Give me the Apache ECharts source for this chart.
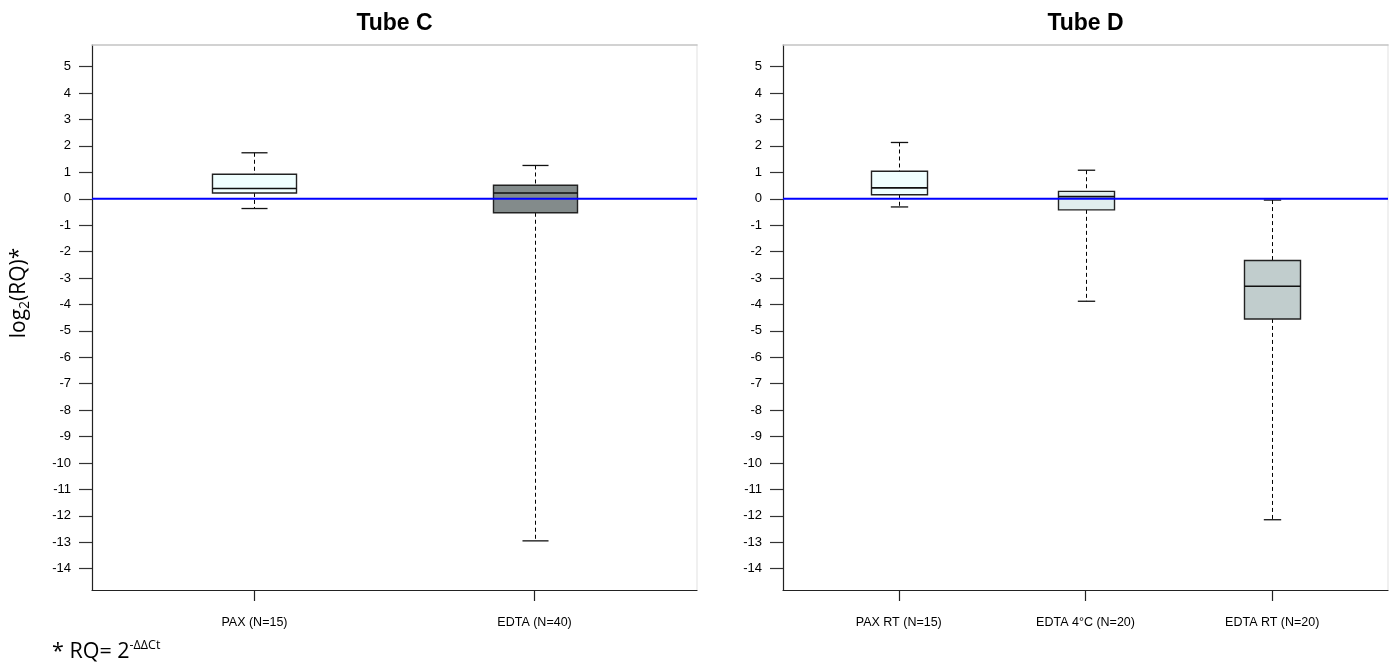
<!DOCTYPE html>
<html><head><meta charset="utf-8">
<script src="https://cdn.jsdelivr.net/npm/echarts@6/dist/echarts.min.js"></script>
<style>html,body{margin:0;padding:0;background:#fff}#c{width:1396px;height:664px}</style>
</head><body><div id="c"></div>
<script>
// ---- data ----
const panelTitles = ['Tube C', 'Tube D'];
const catsC = ['PAX (N=15)', 'EDTA (N=40)'];
const minC = [-0.37, -12.95];
const q1C  = [0.22, -0.53];
const medC = [0.39, 0.22];
const q3C  = [0.93, 0.51];
const maxC = [1.74, 1.26];
const fillC = ['#F0FFFF', '#838B8B'];

const catsD = ['PAX RT (N=15)', 'EDTA 4°C (N=20)', 'EDTA RT (N=20)'];
const minD = [-0.31, -3.88, -12.15];
const q1D  = [0.15, -0.42, -4.55];
const medD = [0.41, 0.08, -3.31];
const q3D  = [1.04, 0.28, -2.34];
const maxD = [2.13, 1.08, -0.05];
const fillD = ['#F0FFFF', '#E0EEEE', '#C1CDCD'];

const yTicks = [5,4,3,2,1,0,-1,-2,-3,-4,-5,-6,-7,-8,-9,-10,-11,-12,-13,-14];
const refLineY = 0;
const yMin = -14.81, yMax = 5.82;

// ---- helpers ----
const FONT = 'Liberation Sans, Arial, sans-serif';
const BOXW = 0.3, CAPW = 0.093;

function boxData(mins, q1s, meds, q3s, maxs) {
  return mins.map((v, i) => [i + 1, v, q1s[i], meds[i], q3s[i], maxs[i]]);
}
function makeRender(fills) {
  return function (params, api) {
    const x = api.value(0);
    const pLo = api.coord([x, api.value(1)]);
    const pQ1 = api.coord([x, api.value(2)]);
    const pMd = api.coord([x, api.value(3)]);
    const pQ3 = api.coord([x, api.value(4)]);
    const pHi = api.coord([x, api.value(5)]);
    const hw = api.size([BOXW, 0])[0] / 2;
    const cw = api.size([CAPW, 0])[0] / 2;
    const px = Math.round(pMd[0]) + 0.5;
    const dash = { stroke: '#000', lineWidth: 1, lineDash: [4, 3] };
    const solid = { stroke: '#111', lineWidth: 1.3 };
    return { type: 'group', children: [
      { type: 'line', shape: { x1: px, y1: pHi[1], x2: px, y2: pQ3[1] }, style: dash },
      { type: 'line', shape: { x1: px, y1: pQ1[1], x2: px, y2: pLo[1] }, style: dash },
      { type: 'line', shape: { x1: px - cw, y1: pHi[1], x2: px + cw, y2: pHi[1] }, style: solid },
      { type: 'line', shape: { x1: px - cw, y1: pLo[1], x2: px + cw, y2: pLo[1] }, style: solid },
      { type: 'rect', shape: { x: px - hw, y: pQ3[1], width: 2 * hw, height: pQ1[1] - pQ3[1] },
        style: { fill: fills[params.dataIndex], stroke: '#222', lineWidth: 1.4 } },
      { type: 'line', shape: { x1: px - hw, y1: pMd[1], x2: px + hw, y2: pMd[1] }, style: { stroke: '#111', lineWidth: 1.6 } }
    ]};
  };
}

const panels = [
  { cats: catsC, data: boxData(minC, q1C, medC, q3C, maxC), fills: fillC, grid: { left: 92, right: 699, top: 45, bottom: 74 } },
  { cats: catsD, data: boxData(minD, q1D, medD, q3D, maxD), fills: fillD, grid: { left: 783, right: 8, top: 45, bottom: 74 } }
];

const grids = [], xAxes = [], yAxes = [], series = [];
panels.forEach((p, gi) => {
  const n = p.cats.length;
  const xmin = 0.5 - 0.04 * n, xmax = n + 0.5 + 0.04 * n;
  const pos = p.cats.map((c, i) => i + 1);
  grids.push(p.grid);
  xAxes.push({
    type: 'value', gridIndex: gi, min: xmin, max: xmax, position: 'bottom',
    axisLine: { show: true, onZero: false, lineStyle: { color: '#222', width: 1.2 } },
    axisTick: { show: true, length: 11, customValues: pos, lineStyle: { color: '#222', width: 1.2 } },
    axisLabel: { customValues: pos, margin: 26, fontSize: 12.5, fontFamily: FONT, color: '#000',
      formatter: v => p.cats[Math.round(v) - 1] || '' },
    splitLine: { show: false }
  });
  xAxes.push({
    type: 'value', gridIndex: gi, min: xmin, max: xmax, position: 'top',
    axisLine: { show: true, onZero: false, lineStyle: { color: '#c4c4c4', width: 1.5 } },
    axisTick: { show: false }, axisLabel: { show: false }, splitLine: { show: false }
  });
  yAxes.push({
    type: 'value', gridIndex: gi, min: yMin, max: yMax, position: 'left',
    axisLine: { show: true, onZero: false, lineStyle: { color: '#222', width: 1.2 } },
    axisTick: { show: true, length: 13, customValues: yTicks, lineStyle: { color: '#333', width: 1.2 } },
    axisLabel: { customValues: yTicks, margin: 21, fontSize: 13, fontFamily: FONT, color: '#000' },
    splitLine: { show: false }
  });
  yAxes.push({
    type: 'value', gridIndex: gi, min: yMin, max: yMax, position: 'right',
    axisLine: { show: true, onZero: false, lineStyle: { color: '#ebebeb', width: 1.5 } },
    axisTick: { show: false }, axisLabel: { show: false }, splitLine: { show: false }
  });
  series.push({
    type: 'custom', xAxisIndex: gi * 2, yAxisIndex: gi * 2, data: p.data,
    renderItem: makeRender(p.fills), z: 2, silent: true,
    encode: { x: 0, y: [1, 2, 3, 4, 5] }
  });
  series.push({
    type: 'line', xAxisIndex: gi * 2, yAxisIndex: gi * 2, z: 10, silent: true,
    data: [[xmin, refLineY], [xmax, refLineY]], symbol: 'none',
    lineStyle: { color: '#0000FF', width: 2.2 }
  });
});

const chart = echarts.init(document.getElementById('c'), null, { renderer: 'canvas' });
chart.setOption({
  animation: false,
  backgroundColor: '#fff',
  grid: grids, xAxis: xAxes, yAxis: yAxes, series: series,
  graphic: [
    { type: 'text', x: 394.5, y: 24, style: { text: panelTitles[0], font: 'bold 23px ' + FONT, fill: '#000', textAlign: 'center', textVerticalAlign: 'middle' } },
    { type: 'text', x: 1085.5, y: 24, style: { text: panelTitles[1], font: 'bold 23px ' + FONT, fill: '#000', textAlign: 'center', textVerticalAlign: 'middle' } },
    { type: 'text', x: 19, y: 293, rotation: Math.PI / 2, style: {
      text: '{a|log}{s|2}{a|(RQ)*}', textAlign: 'center', textVerticalAlign: 'middle',
      rich: {
        a: { fontSize: 21, fontFamily: 'Open Sans, sans-serif', fill: '#000', lineHeight: 28 },
        s: { fontSize: 14, fontFamily: 'Open Sans, sans-serif', fill: '#000', lineHeight: 28, padding: [13, 0, 0, 0] }
      } } },
    { type: 'text', x: 52, y: 652, style: {
      text: '{a|* RQ= 2}{s|-ΔΔCt}', textVerticalAlign: 'middle',
      rich: {
        a: { fontSize: 21.5, fontFamily: 'Open Sans, sans-serif', fill: '#000', lineHeight: 26 },
        s: { fontSize: 12.5, fontFamily: 'Open Sans, sans-serif', fill: '#000', lineHeight: 26, padding: [0, 0, 14, 0] }
      } } }
  ]
});
</script>
</body></html>
